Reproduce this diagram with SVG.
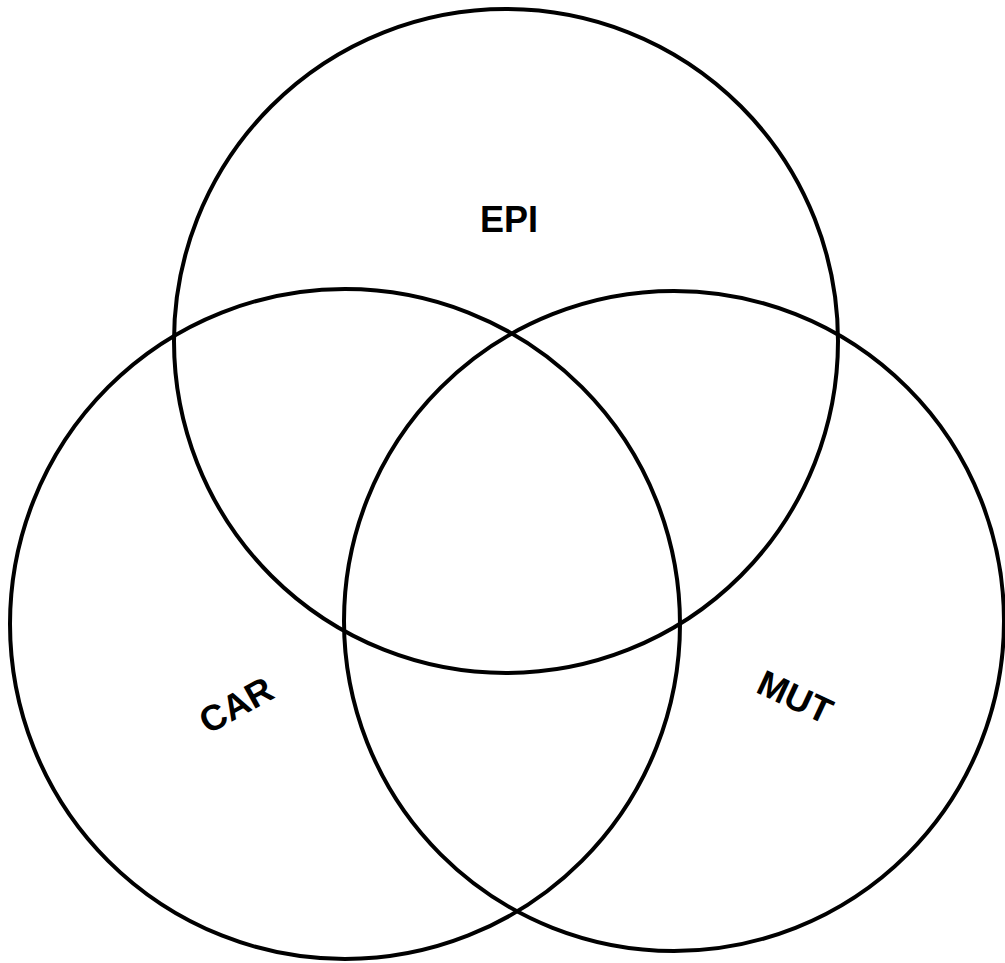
<svg xmlns="http://www.w3.org/2000/svg" width="1005" height="963" viewBox="0 0 1005 963">
<style>
.c{fill:none;stroke:#000;stroke-width:4}
.t{font-family:"Liberation Sans",Arial,sans-serif;font-weight:bold;font-size:36px;fill:#000;text-anchor:middle;dominant-baseline:central}
</style>
<rect width="1005" height="963" fill="#fff"/>
<g id="epi"><circle class="c" cx="506" cy="341" r="332"/><text class="t" x="509" y="219">EPI</text></g>
<g id="car"><circle class="c" cx="345" cy="624" r="335"/><text class="t" transform="translate(236,705) rotate(-29)">CAR</text></g>
<g id="mut"><circle class="c" cx="674" cy="621" r="330"/><text class="t" transform="translate(795,697) rotate(25)">MUT</text></g>
<g id="connectors"/>
</svg>
